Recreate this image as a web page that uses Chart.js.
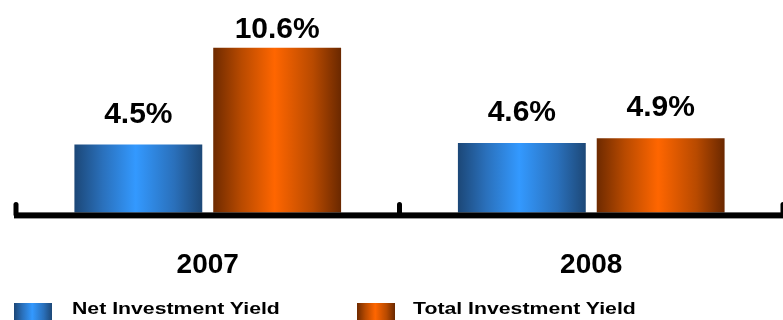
<!DOCTYPE html>
<html lang="en">
<head>
  <meta charset="UTF-8" />
  <title>Investment Yield</title>
  <script src="https://cdn.jsdelivr.net/npm/chart.js"></script>
  <style>
    body {
      margin: 0;
      background: #fff;
      font-family: 'Liberation Sans', Arial, sans-serif;
    }
    .wrap {
      position: relative;
      width: 783px;
      height: 320px;
      overflow: hidden;
    }
    .legend-item {
      position: absolute;
      top: 299px;
      font-weight: bold;
      font-size: 17px;
      line-height: 20px;
      transform: scaleX(1.25);
      transform-origin: left top;
      color: #000;
      white-space: nowrap;
    }
    .swatch {
      position: absolute;
      top: 303px;
      width: 38px;
      height: 20px;
    }
  </style>
</head>
<body>
  <div class="wrap">
    <canvas id="yieldChart" width="783" height="320"></canvas>
    <div class="swatch" id="sw0" style="left:14px;"></div>
    <div class="legend-item" id="lg0" style="left:72px;"></div>
    <div class="swatch" id="sw1" style="left:357px;"></div>
    <div class="legend-item" id="lg1" style="left:413px;"></div>
  </div>

  <script>
    const years = ['2007', '2008'];
    const seriesNames = ['Net Investment Yield', 'Total Investment Yield'];
    const netYield = [4.5, 4.6];
    const totalYield = [10.6, 4.9];

    // edge / middle colours for the cylinder-like shading
    const shades = [
      ['#1c4777', '#2a70bb', '#3399ff', '#1d4877'],
      ['#6e2a00', '#b84a00', '#ff6600', '#6a2800']
    ];

    const cssGradient = s => `linear-gradient(to right, ${s[0]} 0%, ${s[1]} 22%, ${s[2]} 48%, ${s[1]} 78%, ${s[3]} 100%)`;

    seriesNames.forEach((name, i) => {
      document.getElementById('lg' + i).textContent = name;
      document.getElementById('sw' + i).style.background = cssGradient(shades[i]);
    });

    const CAT_PCT = 0.724;
    const BAR_PCT = 0.921;

    function barGradient(ctx) {
      const chart = ctx.chart;
      const xs = chart.scales.x;
      const s = shades[ctx.datasetIndex];
      if (!chart.chartArea || !xs || ctx.dataIndex === undefined) return s[2];
      const catW = xs.width / years.length;
      const slot = catW * CAT_PCT / 2;
      const center = xs.getPixelForValue(ctx.dataIndex) + (ctx.datasetIndex - 0.5) * slot;
      const w = slot * BAR_PCT;
      const g = chart.ctx.createLinearGradient(center - w / 2, 0, center + w / 2, 0);
      g.addColorStop(0, s[0]);
      g.addColorStop(0.22, s[1]);
      g.addColorStop(0.48, s[2]);
      g.addColorStop(0.78, s[1]);
      g.addColorStop(1, s[3]);
      return g;
    }

    // thick base line with the small upright separators
    const baseAxis = {
      id: 'baseAxis',
      afterDatasetsDraw(chart) {
        const { ctx, chartArea, scales } = chart;
        const xs = scales.x;
        const y = chartArea.bottom;
        ctx.save();
        ctx.fillStyle = '#000';
        ctx.fillRect(xs.left - 2, y, chart.width - xs.left + 2, 6);
        const catW = xs.width / years.length;
        for (let i = 0; i <= years.length; i++) {
          const x = xs.left + i * catW;
          ctx.beginPath();
          ctx.moveTo(x - 2.5, y + 3);
          ctx.lineTo(x - 2.5, y - 8);
          ctx.arc(x, y - 8, 2.5, Math.PI, 0);
          ctx.lineTo(x + 2.5, y + 3);
          ctx.closePath();
          ctx.fill();
        }
        ctx.restore();
      }
    };

    // value above each bar, kept from running off the top edge
    const valueLabels = {
      id: 'valueLabels',
      afterDatasetsDraw(chart) {
        const ctx = chart.ctx;
        ctx.save();
        ctx.font = "bold 30px 'Liberation Sans', Arial, sans-serif";
        ctx.fillStyle = '#000';
        ctx.textAlign = 'center';
        ctx.textBaseline = 'alphabetic';
        chart.data.datasets.forEach((ds, i) => {
          chart.getDatasetMeta(i).data.forEach((bar, j) => {
            const y = Math.max(bar.y - 22, 38);
            ctx.fillText(ds.data[j].toFixed(1) + '%', bar.x, y);
          });
        });
        ctx.restore();
      }
    };

    new Chart(document.getElementById('yieldChart'), {
      type: 'bar',
      data: {
        labels: years,
        datasets: [
          { label: seriesNames[0], data: netYield, backgroundColor: barGradient },
          { label: seriesNames[1], data: totalYield, backgroundColor: barGradient }
        ]
      },
      options: {
        responsive: false,
        animation: false,
        events: [],
        categoryPercentage: CAT_PCT,
        barPercentage: BAR_PCT,
        layout: { padding: { left: 16, right: 0, top: 0, bottom: 2 } },
        plugins: {
          legend: { display: false },
          tooltip: { enabled: false }
        },
        scales: {
          x: {
            grid: { display: false, drawTicks: false },
            border: { display: false },
            ticks: {
              color: '#000',
              padding: 36,
              font: { family: "'Liberation Sans', Arial, sans-serif", size: 28, weight: 'bold' }
            }
          },
          y: {
            display: false,
            min: 0.22,
            max: 13.62
          }
        }
      },
      plugins: [baseAxis, valueLabels]
    });
  </script>
</body>
</html>
